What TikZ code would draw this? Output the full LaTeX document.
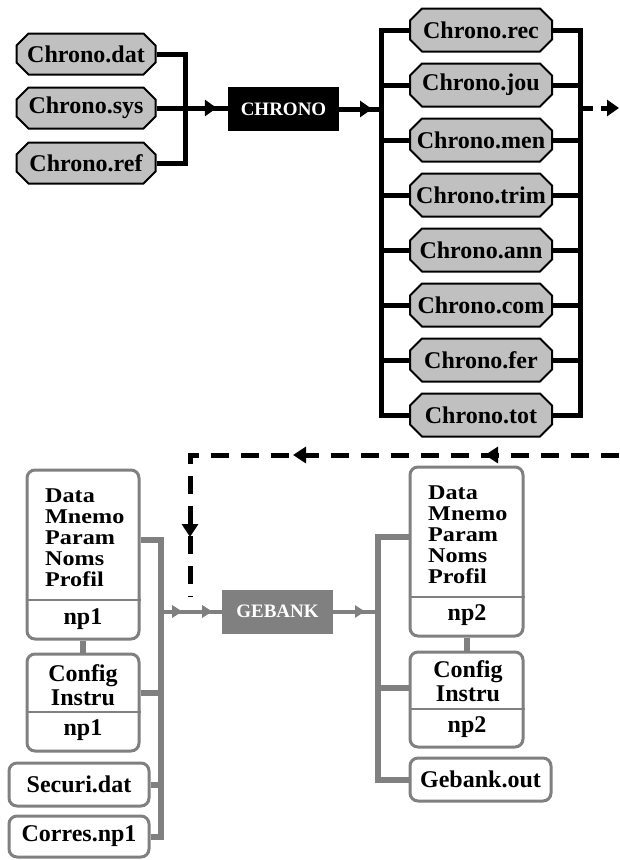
\documentclass[tikz,border=0pt]{standalone}
\usepackage{fontspec}
\setmainfont{Liberation Serif}
\newfontfamily\wideserif[FakeStretch=1.15]{Liberation Serif}
\usetikzlibrary{arrows.meta,shapes.misc,decorations.markings}

\definecolor{boxgray}{HTML}{C0C0C0}
\definecolor{midgray}{HTML}{808080}

\tikzset{
  labelfont/.style={font=\bfseries\fontsize{24}{20.5}\selectfont},
  listfont/.style={font=\wideserif\bfseries\fontsize{21}{21}\selectfont},
  filebox/.style={chamfered rectangle, chamfered rectangle xsep=6pt,
    chamfered rectangle ysep=6pt, draw=black, line width=2pt, fill=boxgray,
    inner sep=0pt, minimum width=139pt, minimum height=41pt, labelfont},
  procbox/.style={rectangle, inner sep=0pt, minimum width=111pt,
    minimum height=44pt, text=white, font=\bfseries\fontsize{19}{19}\selectfont},
  docbox/.style={rectangle, rounded corners=8pt, draw=midgray, line width=3pt,
    fill=white, inner sep=0pt, labelfont},
  textlines/.style={inner sep=0pt, labelfont},
  blackline/.style={line width=5pt, draw=black},
  dashline/.style={line width=5pt, draw=black, dash pattern=on 18pt off 12pt},
  grayline/.style={line width=6pt, draw=midgray},
  grayarrow/.style={line width=4pt, draw=midgray},
  divider/.style={line width=2.4pt, draw=midgray},
  blacktip/.style={postaction={decorate}, decoration={markings,
    mark=at position #1 with {\arrow{Triangle[length=12pt,width=16pt]}}}},
  graytip/.style={postaction={decorate}, decoration={markings,
    mark=at position #1 with {\arrow[midgray]{Triangle[length=10pt,width=12pt]}}}},
}

\begin{document}
\begin{tikzpicture}[x=1pt,y=-1pt]
\path[use as bounding box, fill=white] (0,0) rectangle (619,860);

% ---------------- CHRONO: inputs ----------------
\node[filebox] (dat) at (86,54) {Chrono.dat};
\node[filebox] (sys) at (86,108) {Chrono.sys};
\node[filebox] (ref) at (86,163) {Chrono.ref};
\node[procbox, fill=black] (chrono) at (283.5,109) {CHRONO};
\coordinate (inbus) at (185,108);

\draw[blackline] (dat.east) -| (inbus) |- (ref.east);
\draw[blackline, blacktip=-11pt] (sys.east) -- (sys.east -| chrono.west);

% ---------------- CHRONO: outputs ----------------
\foreach \n/\t [count=\i from 0] in {rec/Chrono.rec, jou/Chrono.jou,
    men/Chrono.men, trim/Chrono.trim, ann/Chrono.ann, com/Chrono.com,
    fer/Chrono.fer, tot/Chrono.tot}
  \node[filebox, minimum width=142pt, minimum height=43pt] (\n) at (481,{30+55*\i}) {\t};

\coordinate (lbT) at (381,30);
\coordinate (lbB) at (381,415);
\coordinate (rbT) at (580,30);
\coordinate (rbB) at (580,415);
\draw[blackline] (rec.west) -- (lbT) -- (lbB) -- (tot.west);
\draw[blackline] (rec.east) -- (rbT) -- (rbB) -- (tot.east);
\foreach \n in {jou,men,trim,ann,com,fer} {
  \draw[blackline] (\n.west) -- (\n.west -| lbT);
  \draw[blackline] (\n.east) -- (\n.east -| rbT);
}
\draw[blackline, blacktip=-9pt] (chrono.east) -- (chrono.east -| lbT);

% dashed flow leaving to the right and coming back
\coordinate (outR) at (580,108);
\coordinate (exitR) at (619,108);
\draw[dashline, dash pattern=on 13pt off 8pt, -{Triangle[length=12pt,width=16pt]}] (outR) -- (exitR);

\coordinate (retR) at (619,455);
\coordinate (retC) at (190,455);
\coordinate (retD) at (190,597);
\draw[dashline, postaction={decorate}, decoration={markings,
    mark=at position 134pt with {\arrow{Triangle[length=13pt,width=16pt]}},
    mark=at position 326pt with {\arrow{Triangle[length=13pt,width=16pt]}},
    mark=at position 511pt with {\arrow{Triangle[length=13pt,width=16pt]}}}]
  (retR) -- (retC) -- (retD);

% ---------------- GEBANK ----------------
\node[procbox, fill=midgray] (gebank) at (277.5,611.5) {GEBANK};

% inputs of GEBANK
\node[docbox, minimum width=112pt, minimum height=169pt] (p1) at (83,554.5) {};
\coordinate (p1div) at (83,600);
\draw[divider] (p1.west |- p1div) -- (p1.east |- p1div);
\node[textlines, listfont, anchor=west, align=left] (p1list) at (45,538) {Data\\Mnemo\\Param\\Noms\\Profil};
\node[textlines] (p1np) at (83,619) {np1};

\node[docbox, minimum width=112pt, minimum height=97pt] (p2) at (83,702.5) {};
\coordinate (p2div) at (83,712);
\draw[divider] (p2.west |- p2div) -- (p2.east |- p2div);
\node[textlines, align=center, font=\bfseries\fontsize{24}{24}\selectfont] (p2cfg) at (83,685) {Config\\Instru};
\node[textlines] (p2np) at (83,730) {np1};

\node[docbox, minimum width=140pt, minimum height=43pt] (sec) at (79,784.5) {Securi.dat};
\node[docbox, minimum width=140pt, minimum height=41pt] (cor) at (79,836.5) {Corres.np1};

\coordinate (gbT) at (161,540);
\coordinate (p2tap) at (161,693);
\draw[grayline] (p1.south) -- (p2.north);
\draw[grayline] (p1.east |- gbT) -- (gbT) |- (cor.east);
\draw[grayline] (p2.east |- p2tap) -- (p2tap);
\draw[grayline] (sec.east) -- (sec.east -| gbT);
\draw[grayarrow, graytip=21pt, graytip=51pt] (gbT |- gebank.west) -- (gebank.west);

% outputs of GEBANK
\node[docbox, minimum width=113pt, minimum height=169pt] (p3) at (466.5,551.5) {};
\coordinate (p3div) at (466.5,597);
\draw[divider] (p3.west |- p3div) -- (p3.east |- p3div);
\node[textlines, listfont, anchor=west, align=left] (p3list) at (428,535) {Data\\Mnemo\\Param\\Noms\\Profil};
\node[textlines] (p3np) at (467,615) {np2};

\node[docbox, minimum width=113pt, minimum height=95pt] (p4) at (466.5,699.5) {};
\coordinate (p4div) at (466.5,709);
\draw[divider] (p4.west |- p4div) -- (p4.east |- p4div);
\node[textlines, align=center, font=\bfseries\fontsize{24}{24}\selectfont] (p4cfg) at (468,681) {Config\\Instru};
\node[textlines] (p4np) at (467,727) {np2};

\node[docbox, minimum width=141pt, minimum height=43pt] (out) at (480.5,779.5) {Gebank.out};

\coordinate (rgT) at (378,537);
\coordinate (p4tap) at (378,688);
\draw[grayline] (p3.south) -- (p4.north);
\draw[grayline] (p3.west |- rgT) -- (rgT) |- (out.west);
\draw[grayline] (p4.west |- p4tap) -- (p4tap);
\draw[grayarrow, graytip=-13pt] (gebank.east) -- (gebank.east -| rgT);
\end{tikzpicture}
\end{document}
